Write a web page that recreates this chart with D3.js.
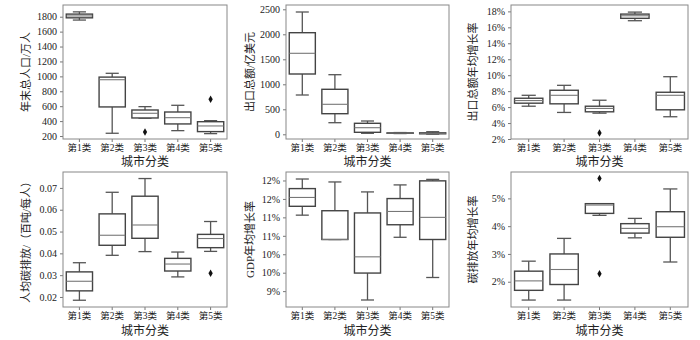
<!DOCTYPE html>
<html>
<head>
<meta charset="utf-8">
<script src="https://cdn.jsdelivr.net/npm/d3@7"></script>
<style>
body{margin:0;background:#fff;}
svg text{font-family:"Liberation Serif","Noto Sans CJK SC",serif;fill:#222;}
</style>
</head>
<body>
<div id="chart"></div>
<script>
// categories
var classes = ["第1类","第2类","第3类","第4类","第5类"];
var xTitle = "城市分类";

// box stats per class: [low whisker, q1, median, q3, high whisker]
var popStats = [[1755,1785,1810,1835,1865],[237,590,955,990,1041],[440,442,505,549,594],[272,362,446,522,612],[232,259,335,392,406]];
var popOut = [[2,255],[4,693]];
var expStats = [[786,1206,1620,2032,2446],[232,412,600,900,1192],[20,40,132,220,266],[15,20,25,30,35],[5,10,20,30,52]];
var expOut = [];
var expRateStats = [[6.11,6.49,6.82,7.11,7.48],[5.33,6.41,7.48,8.11,8.73],[5.24,5.41,5.83,6.11,6.86],[16.83,17.13,17.45,17.66,17.91],[4.79,5.66,7.48,7.86,9.81]];
var expRateOut = [[2,2.75]];
var carbonStats = [[0.0185,0.0228,0.0272,0.0315,0.0357],[0.0391,0.0437,0.0483,0.0581,0.068],[0.0408,0.0469,0.053,0.0662,0.0743],[0.0292,0.0319,0.0351,0.0377,0.0406],[0.0409,0.0426,0.0468,0.0487,0.0546]];
var carbonOut = [[4,0.0309]];
var gdpStats = [[11.06,11.30,11.54,11.78,12.04],[10.40,10.40,10.40,11.18,11.96],[8.76,9.49,9.93,11.12,11.69],[10.46,10.80,11.16,11.51,11.88],[9.37,10.40,11.0,11.99,12.03]];
var gdpOut = [];
var cRateStats = [[1.34,1.69,2.03,2.38,2.74],[1.34,1.90,2.44,3.0,3.56],[4.39,4.46,4.76,4.81,4.81],[3.58,3.75,3.92,4.09,4.28],[2.71,3.60,3.98,4.52,5.34]];
var cRateOut = [[2,5.72],[2,2.29]];

// tick values
var popTicks = [200,400,600,800,1000,1200,1400,1600,1800];
var expTicks = [0,500,1000,1500,2000,2500];
var expRateTicks = [2,4,6,8,10,12,14,16,18];
var carbonTicks = [0.02,0.03,0.04,0.05,0.06,0.07];
var gdpTicks = [9,9.5,10,10.5,11,11.5,12];
var cRateTicks = [2,3,4,5];

var W = 700, H = 340;
var FONT = "'Liberation Serif','Noto Sans CJK SC',serif";
var svg = d3.select("#chart").append("svg").attr("width", W).attr("height", H);

var cols = [[63,227],[286,449],[511,688]];
var rows = [[5,139],[172,307]];
var titleX = [30,254,477];

var panels = [
  {stats:popStats, out:popOut, ticks:popTicks, dom:[160,1957], fmt:d3.format("d"), title:"年末总人口/万人", c:0, r:0},
  {stats:expStats, out:expOut, ticks:expTicks, dom:[-94,2586], fmt:d3.format("d"), title:"出口总额/亿美元", c:1, r:0},
  {stats:expRateStats, out:expRateOut, ticks:expRateTicks, dom:[2.0,18.8], fmt:function(d){return d+"%";}, title:"出口总额年均增长率", c:2, r:0},
  {stats:carbonStats, out:carbonOut, ticks:carbonTicks, dom:[0.0154,0.0773], fmt:d3.format(".2f"), title:"人均碳排放/（百吨/每人）", c:0, r:1},
  {stats:gdpStats, out:gdpOut, ticks:gdpTicks, dom:[8.57,12.23], fmt:function(d){return d.toFixed(0)+"%";}, title:"GDP年均增长率", c:1, r:1},
  {stats:cRateStats, out:cRateOut, ticks:cRateTicks, dom:[1.09,5.95], fmt:function(d){return d+"%";}, title:"碳排放年均增长率", c:2, r:1}
];

panels.forEach(function(p){
  var x0 = cols[p.c][0], x1 = cols[p.c][1];
  var y0 = rows[p.r][0], y1 = rows[p.r][1];
  var g = svg.append("g");

  var x = d3.scaleBand().domain(classes).range([x0,x1]).paddingInner(0.2).paddingOuter(0.1);
  var y = d3.scaleLinear().domain(p.dom).range([y1,y0]);

  // axes
  var yAxis = g.append("g").attr("transform","translate("+x0+",0)")
    .call(d3.axisLeft(y).tickValues(p.ticks).tickFormat(p.fmt).tickSize(3).tickPadding(3));
  var xAxis = g.append("g").attr("transform","translate(0,"+y1+")")
    .call(d3.axisBottom(x).tickSize(3).tickPadding(2));
  [yAxis,xAxis].forEach(function(a){
    a.attr("font-family",FONT);
    a.select(".domain").remove();
    a.selectAll("line").attr("stroke","#777");
    a.selectAll("text").attr("font-size",10).attr("fill","#222");
  });
  xAxis.selectAll("text").attr("font-size",9.5);

  // frame
  g.append("rect").attr("x",x0).attr("y",y0).attr("width",x1-x0).attr("height",y1-y0)
    .attr("fill","none").attr("stroke","#888").attr("stroke-width",1);

  // boxes
  var bw = x.bandwidth();
  var box = g.selectAll(".box").data(p.stats).enter().append("g").attr("class","box")
    .attr("transform",function(d,i){return "translate("+(x(classes[i])+bw/2)+",0)";});
  box.append("line").attr("x1",0).attr("x2",0)
    .attr("y1",function(d){return y(d[4]);}).attr("y2",function(d){return y(d[3]);})
    .attr("stroke","#555").attr("stroke-width",1.3);
  box.append("line").attr("x1",0).attr("x2",0)
    .attr("y1",function(d){return y(d[1]);}).attr("y2",function(d){return y(d[0]);})
    .attr("stroke","#555").attr("stroke-width",1.3);
  [0,4].forEach(function(k){
    box.append("line").attr("x1",-bw/4).attr("x2",bw/4)
      .attr("y1",function(d){return y(d[k]);}).attr("y2",function(d){return y(d[k]);})
      .attr("stroke","#555").attr("stroke-width",1.3);
  });
  box.append("rect").attr("x",-bw/2).attr("width",bw)
    .attr("y",function(d){return y(d[3]);})
    .attr("height",function(d){return Math.max(0.5,y(d[1])-y(d[3]));})
    .attr("fill","#fff").attr("stroke","#444").attr("stroke-width",1.4);
  box.append("line").attr("x1",-bw/2).attr("x2",bw/2)
    .attr("y1",function(d){return y(d[2]);}).attr("y2",function(d){return y(d[2]);})
    .attr("stroke","#777").attr("stroke-width",1.1);

  // outliers
  g.selectAll(".out").data(p.out).enter().append("path")
    .attr("d",d3.symbol().type(d3.symbolDiamond).size(16))
    .attr("transform",function(d){return "translate("+(x(classes[d[0]])+bw/2)+","+y(d[1])+")";})
    .attr("fill","#111");

  // titles
  g.append("text").attr("x",(x0+x1)/2).attr("y",y1+(p.r==0?27:28))
    .attr("text-anchor","middle").attr("font-size",12).text(xTitle);
  g.append("text").attr("transform","translate("+titleX[p.c]+","+((y0+y1)/2)+") rotate(-90)")
    .attr("text-anchor","middle").attr("font-size",11).text(p.title);
});
</script>
</body>
</html>
